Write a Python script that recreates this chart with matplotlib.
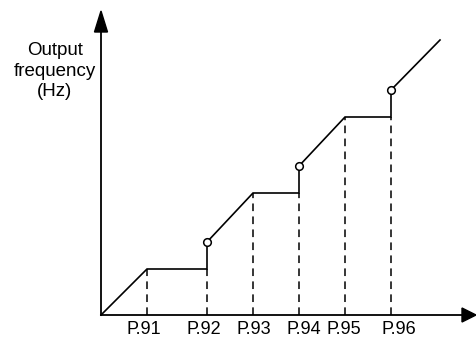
import matplotlib
matplotlib.use("Agg")
from matplotlib import pyplot as plt
from matplotlib.patches import Polygon

# parameter positions on the horizontal axis (P.91 .. P.96)
param_labels = ["P.91", "P.92", "P.93", "P.94", "P.95", "P.96"]
param_x = [46, 106, 152, 198, 244, 290]
label_shift = [-3.5, -3, 0.5, 5, -1, 8]

# frequency curve: ramp, hold, jump (open circle), ramp ...
curve_x = [0, 46, 106, 106, 152, 198, 198, 244, 290, 290, 339]
curve_y = [0, 46, 46, 73, 122, 122, 149, 198, 198, 225, 275]
jump_x = [106, 198, 290]
jump_y = [73, 149, 225]
# height that each dashed guide reaches
guide_top = [46, 46, 122, 122, 198, 198]

ylabel = "Output\nfrequency\n(Hz)"

fig = plt.figure(figsize=(4.76, 3.38), dpi=100)
ax = fig.add_axes([0, 0, 1, 1])
ax.set_xlim(-101, 375)
ax.set_ylim(-23, 315)
ax.axis("off")

# axes with arrow heads
ax.plot([0, 0], [0, 290], color="black", lw=1.3)
ax.plot([0, 362], [0, 0], color="black", lw=1.3)
ax.add_patch(Polygon([[-6.5, 283], [6.5, 283], [0, 304]], closed=True,
                     color="black"))
ax.add_patch(Polygon([[361, 7], [361, -7], [375, 0]], closed=True,
                     color="black"))

# dashed guides
for xv, top in zip(param_x, guide_top):
  ax.plot([xv, xv], [0, top], color="black", lw=1.1,
          linestyle=(0, (5, 3.5)))

# the curve
ax.plot(curve_x, curve_y, color="black", lw=1.2, solid_joinstyle="miter")
ax.plot(jump_x, jump_y, "o", ms=5.5, mfc="white", mec="black", mew=1.1)

# labels
for xv, s, lab in zip(param_x, label_shift, param_labels):
  ax.text(xv + s, -14.5, lab, ha="center", va="center", fontsize=13,
          family="Liberation Sans")
ax.text(-46, 244, ylabel, ha="center", va="center", fontsize=13.5,
        family="Liberation Sans", linespacing=1.25)

fig.savefig("out.png", dpi=100)
